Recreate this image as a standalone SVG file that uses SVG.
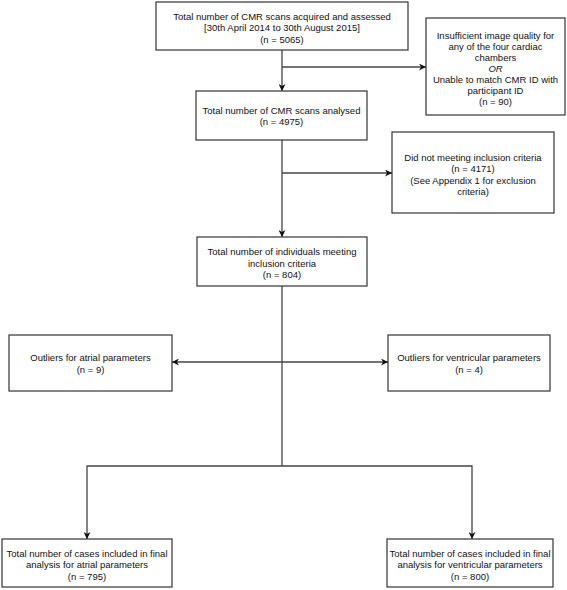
<svg xmlns="http://www.w3.org/2000/svg" width="567" height="590" viewBox="0 0 567 590">
<defs>
<style>
.box{fill:#ffffff;stroke:#333333;stroke-width:1.2}
.t{font-family:"Liberation Sans",Arial,sans-serif;font-size:9.5px;fill:#111111;text-anchor:middle}
.c{fill:none;stroke:#444444;stroke-width:1.3}
</style>
<marker id="ah" viewBox="0 0 10 10" refX="10" refY="5" markerWidth="7" markerHeight="7" markerUnits="userSpaceOnUse" orient="auto-start-reverse">
<path d="M0,0 L10,5 L0,10 L3,5 Z" fill="#111111"/>
</marker>
</defs>
<rect width="567" height="590" fill="#ffffff"/>
<g id="connectors">
<path class="c" d="M282,50 V91" marker-end="url(#ah)"/>
<path class="c" d="M282,67 H426" marker-end="url(#ah)"/>
<path class="c" d="M282,140 V237" marker-end="url(#ah)"/>
<path class="c" d="M282,173 H392" marker-end="url(#ah)"/>
<path class="c" d="M282,286 V466"/>
<path class="c" d="M172,362 H388" marker-start="url(#ah)" marker-end="url(#ah)"/>
<path class="c" d="M87,539 V466 H472 V539" marker-start="url(#ah)" marker-end="url(#ah)"/>
</g>
<g id="n1">
<rect class="box" x="156" y="2" width="252" height="48"/>
<text class="t" x="282" y="19.5">Total number of CMR scans acquired and assessed</text>
<text class="t" x="282" y="31">[30th April 2014 to 30th August 2015]</text>
<text class="t" x="282" y="42.5">(n = 5065)</text>
</g>
<g id="n2">
<rect class="box" x="426" y="18" width="139" height="97"/>
<text class="t" x="495.5" y="38.5">Insufficient image quality for</text>
<text class="t" x="495.5" y="49.5">any of the four cardiac</text>
<text class="t" x="495.5" y="60.5">chambers</text>
<text class="t" x="495.5" y="71.5" font-style="italic">OR</text>
<text class="t" x="495.5" y="82.5">Unable to match CMR ID with</text>
<text class="t" x="495.5" y="93.5">participant ID</text>
<text class="t" x="495.5" y="104.5">(n = 90)</text>
</g>
<g id="n3">
<rect class="box" x="196" y="91" width="171" height="49"/>
<text class="t" x="281.5" y="113.5">Total number of CMR scans analysed</text>
<text class="t" x="281.5" y="125">(n = 4975)</text>
</g>
<g id="n4">
<rect class="box" x="392" y="132" width="162" height="81"/>
<text class="t" x="473" y="160.5">Did not meeting inclusion criteria</text>
<text class="t" x="473" y="172">(n = 4171)</text>
<text class="t" x="473" y="183.5">(See Appendix 1 for exclusion</text>
<text class="t" x="473" y="195">criteria)</text>
</g>
<g id="n5">
<rect class="box" x="197" y="237" width="170" height="49"/>
<text class="t" x="282" y="255">Total number of individuals meeting</text>
<text class="t" x="282" y="266.5">inclusion criteria</text>
<text class="t" x="282" y="278">(n = 804)</text>
</g>
<g id="n6">
<rect class="box" x="9" y="335" width="163" height="56"/>
<text class="t" x="90.5" y="360.5">Outliers for atrial parameters</text>
<text class="t" x="90.5" y="372.5">(n = 9)</text>
</g>
<g id="n7">
<rect class="box" x="388" y="335" width="162" height="56"/>
<text class="t" x="469" y="360.5">Outliers for ventricular parameters</text>
<text class="t" x="469" y="372.5">(n = 4)</text>
</g>
<g id="n8">
<rect class="box" x="2" y="539" width="170" height="48"/>
<text class="t" x="87" y="556.5">Total number of cases included in final</text>
<text class="t" x="87" y="568">analysis for atrial parameters</text>
<text class="t" x="87" y="579.5">(n = 795)</text>
</g>
<g id="n9">
<rect class="box" x="387" y="539" width="166" height="48"/>
<text class="t" x="470" y="556.5">Total number of cases included in final</text>
<text class="t" x="470" y="568">analysis for ventricular parameters</text>
<text class="t" x="470" y="579.5">(n = 800)</text>
</g>
</svg>
